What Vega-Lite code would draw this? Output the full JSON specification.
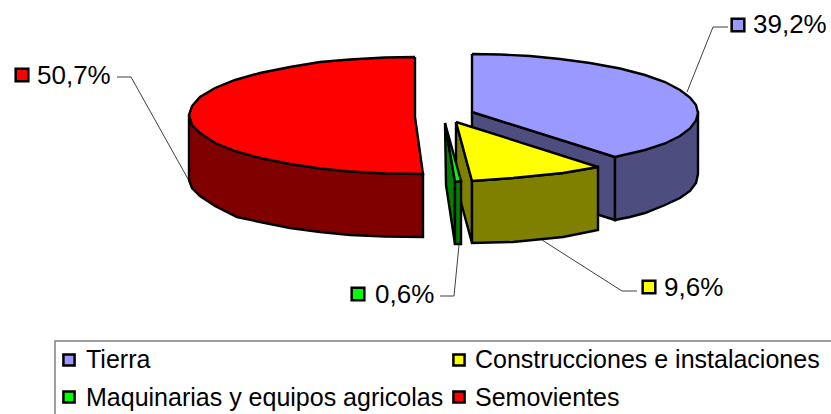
{
"$schema":"https://vega.github.io/schema/vega-lite/v6.json",
"width":831,"height":414,"padding":0,
"autosize":{"type":"none"},
"background":"white",
"view":{"stroke":null},
"datasets":{
"faces":[
{"p":"rojo_lado","x":189,"y":115},{"p":"rojo_lado","x":189,"y":180},{"p":"rojo_lado","x":192,"y":188},{"p":"rojo_lado","x":200,"y":196},{"p":"rojo_lado","x":215,"y":206},{"p":"rojo_lado","x":237,"y":217},{"p":"rojo_lado","x":260,"y":222},{"p":"rojo_lado","x":290,"y":228},{"p":"rojo_lado","x":320,"y":232},{"p":"rojo_lado","x":350,"y":235},{"p":"rojo_lado","x":385,"y":236.5},{"p":"rojo_lado","x":423,"y":237},{"p":"rojo_lado","x":423,"y":174},{"p":"rojo_lado","x":189,"y":115},
{"p":"rojo_top","x":415,"y":57},{"p":"rojo_top","x":385,"y":57.5},{"p":"rojo_top","x":350,"y":59.5},{"p":"rojo_top","x":320,"y":62},{"p":"rojo_top","x":290,"y":67},{"p":"rojo_top","x":260,"y":73},{"p":"rojo_top","x":235,"y":80},{"p":"rojo_top","x":215,"y":88},{"p":"rojo_top","x":200,"y":97},{"p":"rojo_top","x":192,"y":106},{"p":"rojo_top","x":189,"y":115},{"p":"rojo_top","x":192,"y":125},{"p":"rojo_top","x":200,"y":133},{"p":"rojo_top","x":215,"y":143},{"p":"rojo_top","x":235,"y":151},{"p":"rojo_top","x":260,"y":158},{"p":"rojo_top","x":290,"y":164},{"p":"rojo_top","x":320,"y":168.5},{"p":"rojo_top","x":350,"y":171.5},{"p":"rojo_top","x":385,"y":173.5},{"p":"rojo_top","x":423,"y":174},{"p":"rojo_top","x":415,"y":117},{"p":"rojo_top","x":415,"y":57},
{"p":"azul_corte","x":472,"y":112},{"p":"azul_corte","x":615,"y":157},{"p":"azul_corte","x":615,"y":220},{"p":"azul_corte","x":472,"y":175},{"p":"azul_corte","x":472,"y":112},
{"p":"azul_lado","x":615,"y":157},{"p":"azul_lado","x":698,"y":113},{"p":"azul_lado","x":698,"y":174},{"p":"azul_lado","x":696,"y":183},{"p":"azul_lado","x":690,"y":191},{"p":"azul_lado","x":680,"y":198},{"p":"azul_lado","x":665,"y":205},{"p":"azul_lado","x":645,"y":213},{"p":"azul_lado","x":630,"y":217},{"p":"azul_lado","x":615,"y":220},{"p":"azul_lado","x":615,"y":157},
{"p":"azul_top","x":472,"y":54},{"p":"azul_top","x":500,"y":54.5},{"p":"azul_top","x":530,"y":56},{"p":"azul_top","x":560,"y":59},{"p":"azul_top","x":590,"y":63},{"p":"azul_top","x":620,"y":68.5},{"p":"azul_top","x":645,"y":75},{"p":"azul_top","x":665,"y":82},{"p":"azul_top","x":680,"y":90},{"p":"azul_top","x":690,"y":97.5},{"p":"azul_top","x":696,"y":105},{"p":"azul_top","x":698,"y":113},{"p":"azul_top","x":696,"y":120.5},{"p":"azul_top","x":690,"y":128.5},{"p":"azul_top","x":680,"y":136},{"p":"azul_top","x":665,"y":143.5},{"p":"azul_top","x":645,"y":150},{"p":"azul_top","x":615,"y":157},{"p":"azul_top","x":472,"y":112},{"p":"azul_top","x":472,"y":54},
{"p":"amarillo_corte","x":456,"y":122},{"p":"amarillo_corte","x":472,"y":181},{"p":"amarillo_corte","x":472,"y":243},{"p":"amarillo_corte","x":456,"y":184},{"p":"amarillo_corte","x":456,"y":122},
{"p":"amarillo_lado","x":472,"y":181},{"p":"amarillo_lado","x":513,"y":178},{"p":"amarillo_lado","x":563,"y":173},{"p":"amarillo_lado","x":598,"y":167},{"p":"amarillo_lado","x":598,"y":230},{"p":"amarillo_lado","x":563,"y":237},{"p":"amarillo_lado","x":513,"y":242},{"p":"amarillo_lado","x":472,"y":243},{"p":"amarillo_lado","x":472,"y":181},
{"p":"amarillo_top","x":456,"y":122},{"p":"amarillo_top","x":598,"y":167},{"p":"amarillo_top","x":563,"y":173},{"p":"amarillo_top","x":513,"y":178},{"p":"amarillo_top","x":472,"y":181},{"p":"amarillo_top","x":456,"y":122},
{"p":"verde_corte","x":445,"y":123},{"p":"verde_corte","x":455,"y":182},{"p":"verde_corte","x":455,"y":244},{"p":"verde_corte","x":446,"y":185},{"p":"verde_corte","x":445,"y":123},
{"p":"verde_lado","x":455,"y":182},{"p":"verde_lado","x":461,"y":181},{"p":"verde_lado","x":461,"y":244},{"p":"verde_lado","x":455,"y":244},{"p":"verde_lado","x":455,"y":182},
{"p":"verde_top","x":445,"y":123},{"p":"verde_top","x":461,"y":181},{"p":"verde_top","x":455,"y":182},{"p":"verde_top","x":445,"y":123}
],
"leaders":[
{"l":"a","x":117,"y":77},{"l":"a","x":131,"y":77},{"l":"a","x":188,"y":179},
{"l":"b","x":728,"y":27},{"l":"b","x":713,"y":27},{"l":"b","x":687,"y":92},
{"l":"c","x":440,"y":296},{"l":"c","x":454,"y":296},{"l":"c","x":459,"y":245},
{"l":"d","x":637,"y":291},{"l":"d","x":622,"y":291},{"l":"d","x":542,"y":240}
],
"frame":[{"x":55,"y":414},{"x":55,"y":341},{"x":831,"y":341}],
"swatchesLabels":[
{"p":"azul_top","x":738,"y":25},{"p":"rojo_top","x":22,"y":75},{"p":"verde_top","x":358,"y":294},{"p":"amarillo_top","x":649,"y":287}
],
"swatchesLegend":[
{"p":"azul_top","x":69,"y":360},{"p":"amarillo_top","x":459,"y":360},{"p":"verde_top","x":69,"y":397},{"p":"rojo_top","x":459,"y":397}
],
"labels":[
{"t":"50,7%","x":37,"y":84},{"t":"39,2%","x":753,"y":33},{"t":"0,6%","x":375,"y":303},{"t":"9,6%","x":664,"y":296}
],
"legendTexts":[
{"t":"Tierra","x":86,"y":368},{"t":"Construcciones e instalaciones","x":475,"y":368},{"t":"Maquinarias y equipos agricolas","x":86,"y":406},{"t":"Semovientes","x":475,"y":406}
]
},
"encoding":{
"x":{"field":"x","type":"quantitative","axis":null,"scale":{"domain":[0,831],"nice":false,"zero":false}},
"y":{"field":"y","type":"quantitative","axis":null,"scale":{"domain":[414,0],"nice":false,"zero":false}}
},
"layer":[
{"data":{"name":"frame"},"mark":{"type":"line","stroke":"#7f7f7f","strokeWidth":1.5,"clip":true},"transform":[{"window":[{"op":"row_number","as":"n"}]}],"encoding":{"order":{"field":"n"}}},
{"data":{"name":"leaders"},"mark":{"type":"line","stroke":"#404040","strokeWidth":1},"transform":[{"window":[{"op":"row_number","as":"n"}]}],"encoding":{"detail":{"field":"l"},"order":{"field":"n"}}},
{"data":{"name":"faces"},"mark":{"type":"line","filled":true,"stroke":"black","strokeWidth":2.4,"strokeJoin":"miter"},"transform":[{"window":[{"op":"row_number","as":"n"}]}],
"encoding":{"order":{"field":"n"},"fill":{"field":"p","type":"nominal","legend":null,"scale":{"domain":["rojo_lado","rojo_top","azul_corte","azul_lado","azul_top","amarillo_corte","amarillo_lado","amarillo_top","verde_corte","verde_lado","verde_top"],"range":["#800000","#FF0000","#4D4D80","#4D4D80","#9999FF","#808000","#808000","#FFFF00","#008000","#008000","#00FF00"]}}}},
{"data":{"name":"swatchesLabels"},"mark":{"type":"point","shape":"square","filled":true,"size":160,"stroke":"black","strokeWidth":2.5,"opacity":1},"encoding":{"fill":{"field":"p","type":"nominal","legend":null}}},
{"data":{"name":"swatchesLegend"},"mark":{"type":"point","shape":"square","filled":true,"size":125,"stroke":"black","strokeWidth":2.5,"opacity":1},"encoding":{"fill":{"field":"p","type":"nominal","legend":null}}},
{"data":{"name":"labels"},"mark":{"type":"text","align":"left","baseline":"alphabetic","font":"Liberation Sans","fontSize":26,"fill":"black"},"encoding":{"text":{"field":"t"}}},
{"data":{"name":"legendTexts"},"mark":{"type":"text","align":"left","baseline":"alphabetic","font":"Liberation Sans","fontSize":25,"fill":"black"},"encoding":{"text":{"field":"t"}}}
]
}
